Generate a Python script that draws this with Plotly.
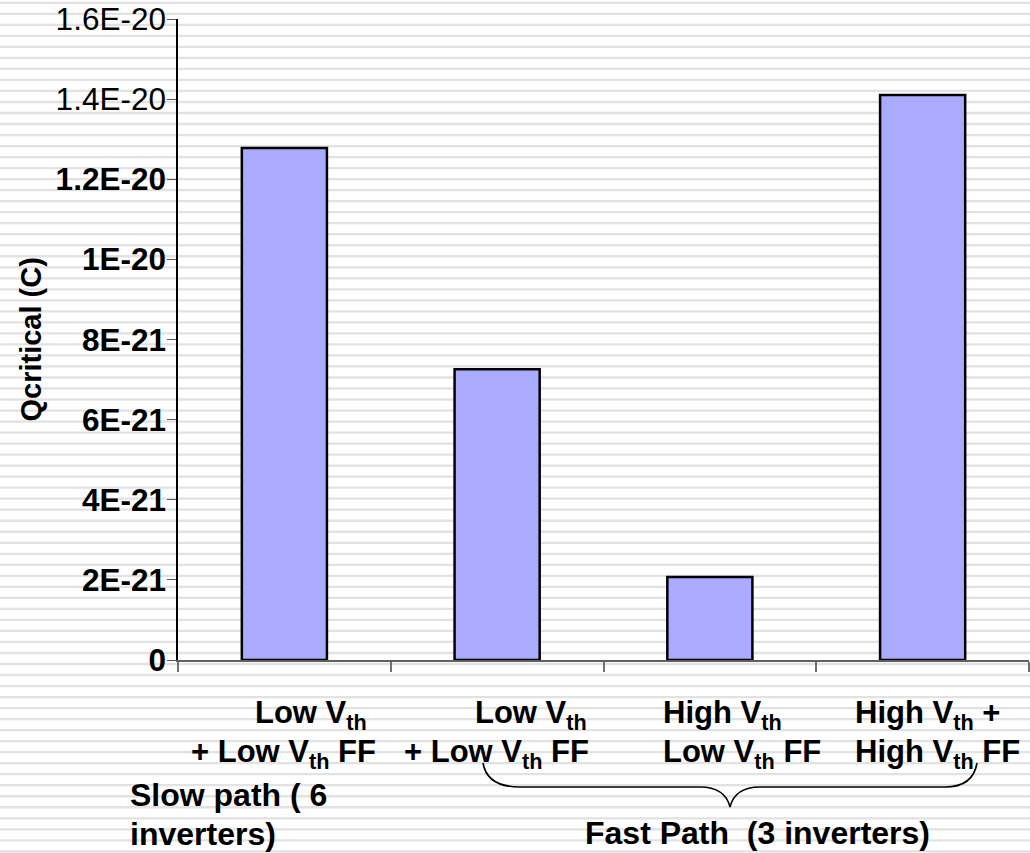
import plotly.graph_objects as go

# ---- data ----
categories = ["LowLow_slow", "LowLow_fast", "HighLow_fast", "HighHigh_fast"]
qcritical = [1.278e-20, 7.26e-21, 2.07e-21, 1.41e-20]
label_line1 = ["Low V<sub>th</sub>", "Low V<sub>th</sub>", "High V<sub>th</sub>", "High V<sub>th</sub> +"]
label_line2 = ["+ Low V<sub>th</sub> FF", "+ Low V<sub>th</sub> FF", "Low V<sub>th</sub> FF", "High V<sub>th</sub> FF"]
ytick_vals = [0, 2e-21, 4e-21, 6e-21, 8e-21, 1e-20, 1.2e-20, 1.4e-20, 1.6e-20]
ytick_text = ["<b>0</b>", "<b>2E-21</b>", "<b>4E-21</b>", "<b>6E-21</b>", "<b>8E-21</b>",
              "<b>1E-20</b>", "<b>1.2E-20</b>", "1.4E-20", "1.6E-20"]
group_notes = ["Slow path ( 6", "inverters)"]
fast_note = "Fast Path &nbsp;(3 inverters)"
y_title = "Qcritical (C)"

# ---- layout geometry (pixels) ----
W, H = 1030, 853
L, R, T, B = 178, 1, 19, 193
PW, PH = W - L - R, H - T - B
FONT = "Liberation Sans, Arial, sans-serif"

def pxx(px):
    return (px - L) / PW

def pxy(py):
    return (H - B - py) / PH

# label offsets (style): left edge of each line relative to category centre
line1_shift = [-31, -24, -49, -70]
line2_shift = [-95, -95, -49, -70]

fig = go.Figure()
fig.add_trace(go.Bar(
    x=categories, y=qcritical, width=0.4,
    marker=dict(color="#aaaaff", line=dict(color="black", width=2.5)),
    hoverinfo="skip",
))

shapes = []
# background stripes
k = 0
while True:
    py = 2.8 + 11.02 * k
    if py > H + 2:
        break
    shapes.append(dict(type="line", xref="paper", yref="paper",
                       x0=pxx(-5), x1=pxx(W + 5), y0=pxy(py), y1=pxy(py),
                       line=dict(color="#e2e2e2", width=2.3), layer="below"))
    k += 1

# curly brace under fast path labels
pts = [(483, 763), (487, 787), (520, 787), (700, 787), (725, 787), (730, 807),
       (735, 787), (760, 787), (945, 787), (973, 787), (977, 763)]
P = [f"{pxx(a):.5f},{pxy(b):.5f}" for a, b in pts]
path = (f"M {P[0]} Q {P[1]} {P[2]} L {P[3]} Q {P[4]} {P[5]} "
        f"Q {P[6]} {P[7]} L {P[8]} Q {P[9]} {P[10]}")
shapes.append(dict(type="path", xref="paper", yref="paper", path=path,
                   line=dict(color="black", width=1.6)))

bold = lambda s: dict(family=FONT, size=s, color="black", weight="bold")

annotations = []
for i, c in enumerate(categories):
    annotations.append(dict(x=c, xref="x", y=pxy(715), yref="paper", text=label_line1[i],
                            showarrow=False, xanchor="left", yanchor="middle",
                            xshift=line1_shift[i], align="left", font=bold(31)))
    annotations.append(dict(x=c, xref="x", y=pxy(754), yref="paper", text=label_line2[i],
                            showarrow=False, xanchor="left", yanchor="middle",
                            xshift=line2_shift[i], align="left", font=bold(31)))

for txt, py in zip(group_notes, [795, 834]):
    annotations.append(dict(x=pxx(128), y=pxy(py), xref="paper", yref="paper",
                            text=txt, showarrow=False, xanchor="left", yanchor="middle",
                            align="left", font=bold(32)))
annotations.append(dict(x=pxx(583), y=pxy(833), xref="paper", yref="paper",
                        text=fast_note, showarrow=False,
                        xanchor="left", yanchor="middle", align="left", font=bold(32)))
annotations.append(dict(x=pxx(30), y=0.5, xref="paper", yref="paper",
                        text=y_title, showarrow=False, textangle=-90,
                        xanchor="center", yanchor="middle", font=bold(29)))

fig.update_layout(
    width=W, height=H,
    margin=dict(l=L, r=R, t=T, b=B),
    paper_bgcolor="white", plot_bgcolor="rgba(0,0,0,0)",
    showlegend=False, shapes=shapes, annotations=annotations,
    font=dict(family=FONT, size=30, color="black"),
    xaxis=dict(type="category", showticklabels=False, showgrid=False, zeroline=False,
               showline=True, linecolor="#606060", linewidth=1.5,
               ticks="outside", tickson="boundaries", ticklen=10,
               tickcolor="#707070", tickwidth=1.5, range=[-0.5, 3.5]),
    yaxis=dict(range=[0, 1.6e-20], tickvals=ytick_vals, ticktext=ytick_text,
               showgrid=False, zeroline=False, showline=True, linecolor="black",
               linewidth=1.5, ticks="outside", ticklen=9, tickcolor="#555555",
               tickwidth=1.2, ticklabelstandoff=-5,
               tickfont=dict(family=FONT, size=31.5, color="black")),
)

fig.write_html("out.html")
